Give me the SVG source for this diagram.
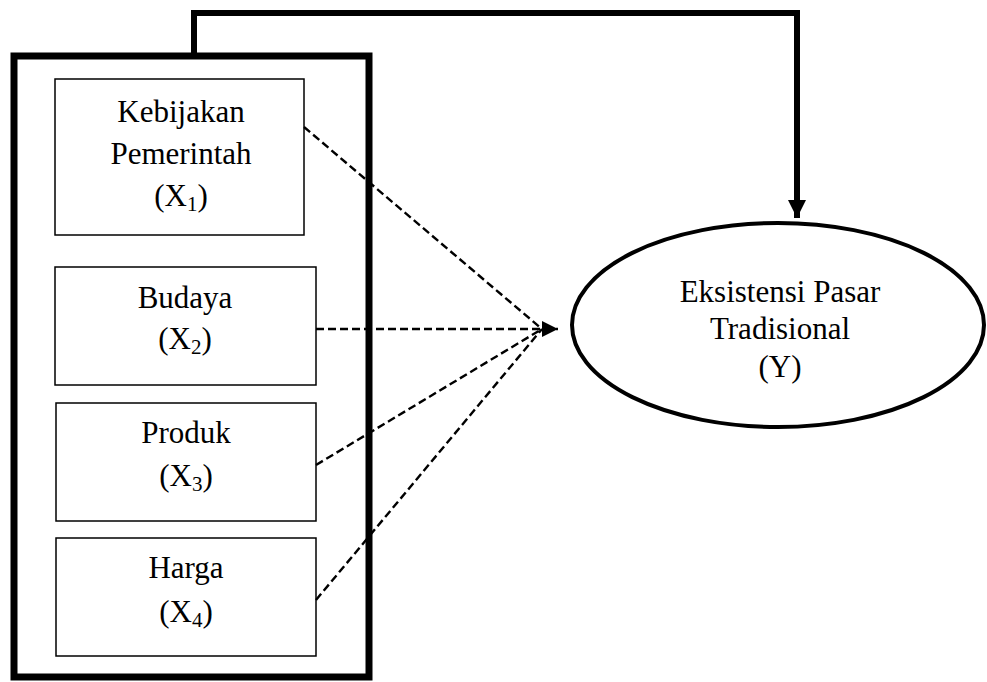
<svg xmlns="http://www.w3.org/2000/svg" width="987" height="682" viewBox="0 0 987 682">
<defs>
<style>
text{font-family:"Liberation Serif","Times New Roman",serif;font-size:31px;fill:#000;text-anchor:middle}
.sub{font-size:21px}
.box{fill:#fff;stroke:#000;stroke-width:1.5}
.dash{fill:none;stroke:#000;stroke-width:2.4;stroke-dasharray:8,4}
</style>
<marker id="ah" markerWidth="17" markerHeight="17" refX="16" refY="8" orient="auto" markerUnits="userSpaceOnUse">
<path d="M0,0 L16,8 L0,16 Z" fill="#000"/>
</marker>
<marker id="ah2" markerWidth="20" markerHeight="20" refX="18" refY="9" orient="auto" markerUnits="userSpaceOnUse">
<path d="M0,0 L18,9 L0,18 Z" fill="#000"/>
</marker>
</defs>
<rect id="group" x="14" y="56" width="355" height="621" fill="none" stroke="#000" stroke-width="7"/>
<g id="x1">
<rect class="box" x="55" y="79" width="249" height="156"/>
<text x="181" y="122">Kebijakan</text>
<text x="181" y="164">Pemerintah</text>
<text x="181" y="206">(X<tspan class="sub" dy="5">1</tspan><tspan dy="-5">)</tspan></text>
</g>
<g id="x2">
<rect class="box" x="55" y="267" width="261" height="118"/>
<text x="185" y="308">Budaya</text>
<text x="185" y="349">(X<tspan class="sub" dy="5">2</tspan><tspan dy="-5">)</tspan></text>
</g>
<g id="x3">
<rect class="box" x="56" y="403" width="260" height="118"/>
<text x="186" y="443">Produk</text>
<text x="186" y="486">(X<tspan class="sub" dy="5">3</tspan><tspan dy="-5">)</tspan></text>
</g>
<g id="x4">
<rect class="box" x="56" y="538" width="260" height="118"/>
<text x="186" y="578">Harga</text>
<text x="186" y="622">(X<tspan class="sub" dy="5">4</tspan><tspan dy="-5">)</tspan></text>
</g>
<g id="y">
<ellipse cx="778" cy="325" rx="206" ry="102" fill="#fff" stroke="#000" stroke-width="4"/>
<text x="780" y="302">Eksistensi Pasar</text>
<text x="780" y="339">Tradisional</text>
<text x="780" y="377">(Y)</text>
</g>
<g id="connectors">
<path d="M194,56 V13 H797 V218" fill="none" stroke="#000" stroke-width="6" marker-end="url(#ah2)"/>
<line class="dash" x1="304" y1="127" x2="542" y2="329"/>
<line class="dash" x1="316" y1="329" x2="558" y2="329" marker-end="url(#ah)"/>
<line class="dash" x1="316" y1="465" x2="542" y2="329"/>
<line class="dash" x1="316" y1="600" x2="542" y2="329"/>
</g>
</svg>
